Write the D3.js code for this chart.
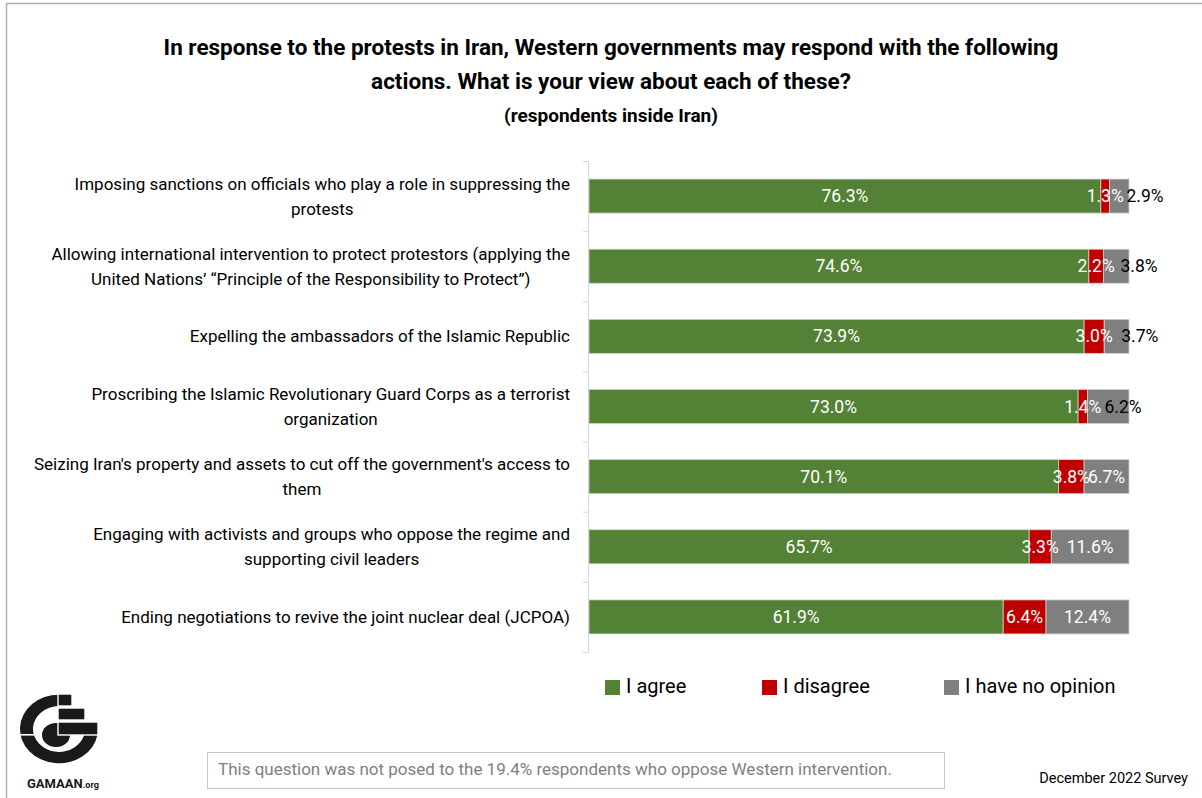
<!DOCTYPE html>
<html>
<head>
<meta charset="utf-8">
<script src="https://cdn.jsdelivr.net/npm/d3@7"></script>
<style>
  body { margin: 0; background: #fff; }
  svg { font-family: Roboto, "Noto Sans", sans-serif; }
</style>
</head>
<body>
<div id="chart"></div>
<script>
width = 1202;
height = 798;

margin = { top: 161, right: 73, bottom: 146, left: 589 };

//////// Data ////////
const categories = [
  "Imposing sanctions on officials who play a role in suppressing the\nprotests",
  "Allowing international intervention to protect protestors (applying the\nUnited Nations\u2019 \u201cPrinciple of the Responsibility to Protect\u201d)",
  "Expelling the ambassadors of the Islamic Republic",
  "Proscribing the Islamic Revolutionary Guard Corps as a terrorist\norganization",
  "Seizing Iran's property and assets to cut off the government's access to\nthem",
  "Engaging with activists and groups who oppose the regime and\nsupporting civil leaders",
  "Ending negotiations to revive the joint nuclear deal (JCPOA)"
];
const agree     = [76.3, 74.6, 73.9, 73.0, 70.1, 65.7, 61.9];
const disagree  = [1.3, 2.2, 3.0, 1.4, 3.8, 3.3, 6.4];
const noOpinion = [2.9, 3.8, 3.7, 6.2, 6.7, 11.6, 12.4];
const seriesNames = ["I agree", "I disagree", "I have no opinion"];

const colors = ["#538135", "#C00000", "#7F7F7F"];

// rows for the stack, each normalised to 100% of answers given
const rows = categories.map((c, i) => {
  const total = agree[i] + disagree[i] + noOpinion[i];
  return { cat: c, a: agree[i], d: disagree[i], n: noOpinion[i], total: total };
});

const svg = d3.select("#chart").append("svg")
  .attr("width", width)
  .attr("height", height);

// frame lines (top / left)
svg.append("line").attr("x1", 6).attr("x2", width).attr("y1", 3.5).attr("y2", 3.5)
  .attr("stroke", "#b0b0b0").attr("stroke-width", 1.5);
svg.append("line").attr("x1", 6.5).attr("x2", 6.5).attr("y1", 3).attr("y2", height)
  .attr("stroke", "#b0b0b0").attr("stroke-width", 1.5);

//////// Title ////////
const titleLines = [
  "In response to the protests in Iran, Western governments may respond with the following",
  "actions. What is your view about each of these?"
];
svg.selectAll("text.title").data(titleLines).join("text")
  .attr("class", "title")
  .attr("x", 611).attr("y", (d, i) => 55 + i * 34)
  .attr("text-anchor", "middle")
  .style("font-size", "22.5px").style("font-weight", "bold").style("fill", "#000")
  .text(d => d);
svg.append("text")
  .attr("x", 611).attr("y", 122)
  .attr("text-anchor", "middle")
  .style("font-size", "19px").style("font-weight", "bold")
  .text("(respondents inside Iran)");

//////// Scales ////////
const x = d3.scaleLinear()
  .domain([0, 1])
  .range([margin.left, width - margin.right]);

const y = d3.scaleBand()
  .domain(categories)
  .range([margin.top, height - margin.bottom])
  .paddingInner(0.515)
  .paddingOuter(0.2575);

const stack = d3.stack()
  .keys(["a", "d", "n"])
  .value((d, k) => d[k] / d.total);
const stacked = stack(rows);

//////// Axis (category boundaries) ////////
const axisG = svg.append("g");
axisG.append("line")
  .attr("x1", margin.left - 0.5).attr("x2", margin.left - 0.5)
  .attr("y1", y.range()[0]).attr("y2", y.range()[1])
  .attr("stroke", "#d9d9d9");
axisG.selectAll("line.tick").data(d3.range(categories.length + 1)).join("line")
  .attr("class", "tick")
  .attr("x1", margin.left - 6).attr("x2", margin.left)
  .attr("y1", i => y.range()[0] + i * y.step() + 0.5)
  .attr("y2", i => y.range()[0] + i * y.step() + 0.5)
  .attr("stroke", "#d9d9d9");

//////// Category labels ////////
categories.forEach(c => {
  const lines = c.split("\n");
  const g = svg.append("g");
  const t = g.selectAll("text").data(lines).join("text")
    .attr("y", (d, i) => y(c) + y.bandwidth() / 2 + 6 + (i - (lines.length - 1) / 2) * 25)
    .attr("text-anchor", "middle")
    .style("font-size", "17px").style("fill", "#000")
    .text(d => d);
  const w = d3.max(t.nodes(), n => n.getComputedTextLength());
  t.attr("x", 570 - w / 2);
});

//////// Bars ////////
const layers = svg.selectAll("g.layer").data(stacked).join("g")
  .attr("class", "layer")
  .attr("fill", (d, i) => colors[i]);

layers.selectAll("rect").data(d => d).join("rect")
  .attr("x", d => x(d[0]))
  .attr("y", d => y(d.data.cat))
  .attr("width", d => x(d[1]) - x(d[0]))
  .attr("height", y.bandwidth())
  .attr("stroke", "#d0d0d0")
  .attr("stroke-width", 0.8);

//////// Data labels ////////
stacked.forEach((layer, li) => {
  layer.forEach(d => {
    const val = d.data[layer.key];
    const w = x(d[1]) - x(d[0]);
    const outside = li === 2 && w < 43;
    svg.append("text")
      .attr("x", outside ? x(d[0]) + 17 : (x(d[0]) + x(d[1])) / 2)
      .attr("y", y(d.data.cat) + y.bandwidth() / 2 + 6)
      .attr("text-anchor", outside ? "start" : "middle")
      .style("font-size", "17.5px")
      .style("fill", outside ? "#000" : "#fff")
      .text(val.toFixed(1) + "%");
  });
});

//////// Legend ////////
const legendX = [605, 762, 944];
const legend = svg.selectAll("g.legend").data(seriesNames).join("g")
  .attr("class", "legend")
  .attr("transform", (d, i) => `translate(${legendX[i]},680)`);
legend.append("rect")
  .attr("width", 15).attr("height", 15).attr("y", 0)
  .attr("fill", (d, i) => colors[i]);
legend.append("text")
  .attr("x", 21).attr("y", 13)
  .style("font-size", "20px")
  .text(d => d);

//////// Footer ////////
svg.append("rect")
  .attr("x", 207.5).attr("y", 752.5).attr("width", 737).attr("height", 36)
  .attr("fill", "none").attr("stroke", "#c8c8c8");
svg.append("text")
  .attr("x", 218).attr("y", 775)
  .style("font-size", "17px").style("fill", "#7f7f7f")
  .text("This question was not posed to the 19.4% respondents who oppose Western intervention.");
svg.append("text")
  .attr("x", 1188).attr("y", 783)
  .attr("text-anchor", "end")
  .style("font-size", "14.5px").style("fill", "#000")
  .text("December 2022 Survey");

//////// Logo ////////
const logo = svg.append("g").attr("fill", "#1a1a1a");
const ring = d3.arc()
  .innerRadius(26).outerRadius(39)
  .startAngle(Math.PI / 2 + 0.16).endAngle(2 * Math.PI);
logo.append("path")
  .attr("transform", "translate(59,729) scale(1,0.88)")
  .attr("d", ring());
logo.append("rect").attr("x", 15).attr("y", 734).attr("width", 32).attr("height", 1.6).attr("fill", "#fff");
logo.append("ellipse").attr("cx", 56).attr("cy", 735).attr("rx", 14).attr("ry", 12);
[[58, 694, 14, 12], [58, 708, 27, 12], [58, 722, 40, 13]].forEach(b => {
  logo.append("rect")
    .attr("x", b[0]).attr("y", b[1]).attr("width", b[2]).attr("height", b[3])
    .attr("stroke", "#fff").attr("stroke-width", 1.4);
});
const logoText = svg.append("text").attr("x", 27).attr("y", 788)
  .style("font-weight", "bold").style("fill", "#1a1a1a");
logoText.append("tspan").style("font-size", "13px").text("GAMAAN");
logoText.append("tspan").style("font-size", "9px").text(".org");
</script>
</body>
</html>
